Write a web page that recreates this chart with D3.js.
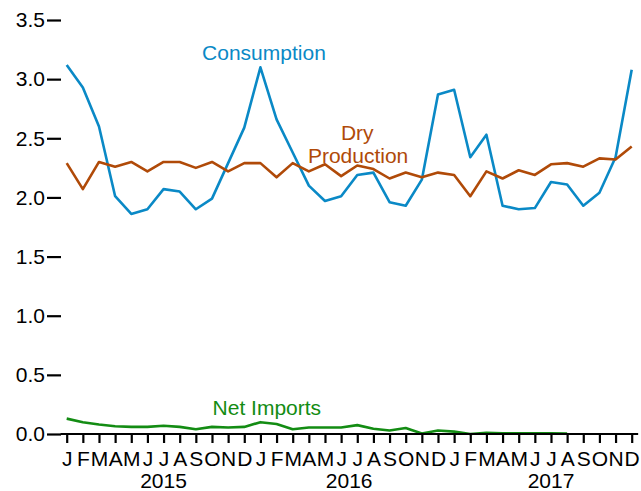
<!DOCTYPE html>
<html>
<head>
<meta charset="utf-8">
<script src="https://cdn.jsdelivr.net/npm/d3@7"></script>
<style>
  html, body { margin: 0; padding: 0; background: #ffffff; }
  svg { display: block; font-family: "Liberation Sans", Arial, Helvetica, sans-serif; }
</style>
</head>
<body>
<svg id="chart" width="641" height="491"></svg>
<script>
// ---- Data ----
const monthLetters = ["J","F","M","A","M","J","J","A","S","O","N","D"];
const years = ["2015", "2016", "2017"];
const yearLabelAt = [6, 17.5, 30];   // month index under which each year is centred
const yTicks = [0, 0.5, 1.0, 1.5, 2.0, 2.5, 3.0, 3.5];

const consumption = [
  3.12, 2.93, 2.60, 2.01, 1.86, 1.90, 2.07, 2.05, 1.90, 1.99, 2.29, 2.59,
  3.10, 2.66, 2.38, 2.10, 1.97, 2.01, 2.19, 2.21, 1.96, 1.93, 2.15, 2.87,
  2.91, 2.34, 2.53, 1.93, 1.90, 1.91, 2.13, 2.11, 1.93, 2.04, 2.34, 3.08
];
const dryProduction = [
  2.29, 2.07, 2.30, 2.26, 2.30, 2.22, 2.30, 2.30, 2.25, 2.30, 2.22, 2.29,
  2.29, 2.17, 2.29, 2.22, 2.28, 2.18, 2.27, 2.24, 2.16, 2.21, 2.17, 2.21,
  2.19, 2.01, 2.22, 2.16, 2.23, 2.19, 2.28, 2.29, 2.26, 2.33, 2.32, 2.43
];
const netImports = [
  0.13, 0.10, 0.08, 0.065, 0.06, 0.06, 0.07, 0.06, 0.04, 0.06, 0.055, 0.06,
  0.10, 0.085, 0.04, 0.055, 0.055, 0.055, 0.075, 0.045, 0.03, 0.05, 0.005, 0.03,
  0.02, 0.0, 0.01, 0.006, 0.005, 0.005, 0.005, 0.003, null, null, null, null
];

const seriesNames = ["Consumption", "Dry Production", "Net Imports"];
const seriesColors = ["#0a89c6", "#b04a08", "#138c13"];

// ---- Layout ----
const svg = d3.select("#chart");
const xLeft = 66.7, xRight = 631.7, yTop = 20, yBottom = 434;
const n = consumption.length;

const x = d3.scaleLinear().domain([0, n - 1]).range([xLeft, xRight]);
const y = d3.scaleLinear().domain([0, 3.5]).range([yBottom, yTop]);

const fontSize = 21;

// ---- Lines ----
const line = d3.line()
  .defined(d => d !== null)
  .x((d, i) => x(i))
  .y(d => y(d));
const allSeries = [consumption, dryProduction, netImports];
allSeries.forEach((s, k) => {
  svg.append("path")
    .datum(s)
    .attr("fill", "none")
    .attr("stroke", seriesColors[k])
    .attr("stroke-width", 2.6)
    .attr("stroke-linejoin", "round")
    .attr("d", line);
});

// ---- Y axis (detached dashes, no spine) ----
const yAxis = d3.axisLeft(y)
  .tickValues(yTicks)
  .tickFormat(d3.format(".1f"))
  .tickSize(14)
  .tickPadding(2);
const gy = svg.append("g").attr("transform", `translate(61,0)`).call(yAxis);
gy.select(".domain").remove();
gy.selectAll(".tick line").attr("stroke", "#000").attr("stroke-width", 2.2);
gy.selectAll(".tick text")
  .attr("fill", "#000")
  .style("font-size", fontSize + "px")
  .style("font-family", "Liberation Sans, Arial, sans-serif");

// ---- X axis ----
const xAxis = d3.axisBottom(x)
  .tickValues(d3.range(n))
  .tickFormat(i => monthLetters[i % 12])
  .tickSize(9)
  .tickSizeOuter(0)
  .tickPadding(8);
const gx = svg.append("g").attr("transform", `translate(0,${yBottom})`).call(xAxis);
gx.select(".domain").remove();
gx.selectAll(".tick line").attr("stroke", "#000").attr("stroke-width", 2.2);
gx.selectAll(".tick text")
  .attr("fill", "#000")
  .style("font-size", fontSize + "px")
  .style("font-family", "Liberation Sans, Arial, sans-serif");

// axis baseline
svg.append("line")
  .attr("x1", x(-0.38)).attr("x2", x(n - 1 + 0.4))
  .attr("y1", y(0)).attr("y2", y(0))
  .attr("stroke", "#000").attr("stroke-width", 2.2);

// Year labels
years.forEach((yr, k) => {
  svg.append("text")
    .attr("x", x(yearLabelAt[k]))
    .attr("y", 488)
    .attr("text-anchor", "middle")
    .attr("fill", "#000")
    .style("font-size", fontSize + "px")
    .text(yr);
});

// ---- Series annotations ----
svg.append("text")
  .attr("x", x(12.22)).attr("y", y(3.16))
  .attr("text-anchor", "middle")
  .attr("fill", seriesColors[0])
  .style("font-size", fontSize + "px")
  .text(seriesNames[0]);

svg.append("text")
  .attr("x", x(18.0)).attr("y", y(2.485))
  .attr("text-anchor", "middle")
  .attr("fill", seriesColors[1])
  .style("font-size", fontSize + "px")
  .text("Dry");
svg.append("text")
  .attr("x", x(18.05)).attr("y", y(2.29))
  .attr("text-anchor", "middle")
  .attr("fill", seriesColors[1])
  .style("font-size", fontSize + "px")
  .text("Production");

svg.append("text")
  .attr("x", x(12.4)).attr("y", y(0.16))
  .attr("text-anchor", "middle")
  .attr("fill", seriesColors[2])
  .style("font-size", fontSize + "px")
  .text(seriesNames[2]);
</script>
</body>
</html>
